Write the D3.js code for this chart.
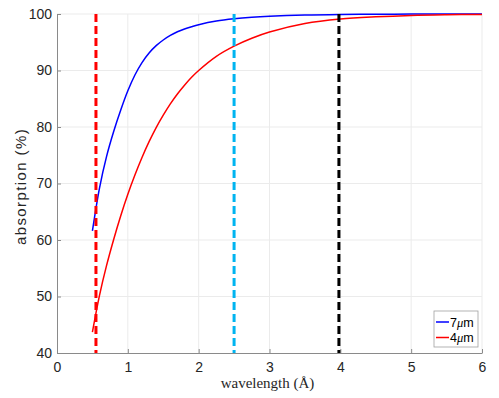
<!DOCTYPE html>
<html>
<head>
<meta charset="utf-8">
<script src="https://cdn.jsdelivr.net/npm/d3@7"></script>
<style>
  body { margin: 0; background: #ffffff; }
  svg { display: block; }
</style>
</head>
<body>
<div id="chart"></div>
<script>
// wavelength (Angstrom) sample points
const wavelengths = [0.5, 0.6, 0.7, 0.8, 0.9, 1.0, 1.1, 1.2, 1.3, 1.4, 1.5, 1.6, 1.7, 1.8, 1.9, 2.0, 2.25, 2.5, 2.75, 3.0, 3.5, 4.0, 4.5, 5.0, 5.5, 6.0]
// absorption (%) for the 7um layer
const abs7um = [61.6, 69.2, 74.8, 79.2, 83.0, 86.4, 89.2, 91.4, 93.1, 94.4, 95.4, 96.2, 96.85, 97.35, 97.75, 98.1, 98.75, 99.15, 99.42, 99.6, 99.82, 99.92, 99.96, 99.98, 99.99, 100]
// absorption (%) for the 4um layer
const abs4um = [43.7, 50.2, 55.5, 60.1, 64.3, 68.1, 71.5, 74.6, 77.4, 79.9, 82.1, 84.1, 85.85, 87.4, 88.8, 90.0, 92.5, 94.3, 95.7, 96.8, 98.3, 99.1, 99.5, 99.75, 99.87, 99.93]

// vertical dashed markers
const markerX = [0.55, 2.5, 3.98]
const markerColors = ['#ff0000', '#00b4f0', '#000000']

const xTicks = [0, 1, 2, 3, 4, 5, 6]
const yTicks = [40, 50, 60, 70, 80, 90, 100]

const seriesNames = ['7', '4']
const seriesColors = ['#0000ff', '#ff0000']

var margin = {top: 14, right: 17, bottom: 45, left: 57},
    width = 499 - margin.left - margin.right,
    height = 398 - margin.top - margin.bottom;

var svg = d3.select('#chart')
  .append('svg')
    .attr('width', 499)
    .attr('height', 398)
  .append('g')
    .attr('transform', 'translate(' + margin.left + ',' + margin.top + ')');

var x = d3.scaleLinear().domain([0, 6]).range([0, width]);
var y = d3.scaleLinear().domain([40, 100]).range([height, 0]);

// grid
svg.append('g')
  .selectAll('line')
  .data(xTicks.slice(1))
  .enter().append('line')
    .attr('x1', d => x(d)).attr('x2', d => x(d))
    .attr('y1', 0).attr('y2', height)
    .style('stroke', '#ebebeb').style('stroke-width', 1);
svg.append('g')
  .selectAll('line')
  .data(yTicks.slice(1))
  .enter().append('line')
    .attr('x1', 0).attr('x2', width)
    .attr('y1', d => y(d)).attr('y2', d => y(d))
    .style('stroke', '#ebebeb').style('stroke-width', 1);

// axes (ticks point inward like matlab)
var xAxis = svg.append('g')
  .attr('transform', 'translate(0,' + height + ')')
  .call(d3.axisBottom(x).tickValues(xTicks).tickSizeInner(-4).tickSizeOuter(0).tickPadding(9).tickFormat(d3.format('d')));
var yAxis = svg.append('g')
  .call(d3.axisLeft(y).tickValues(yTicks).tickSizeInner(-4).tickSizeOuter(0).tickPadding(5).tickFormat(d3.format('d')));

[xAxis, yAxis].forEach(function(ax) {
  ax.select('.domain').style('stroke', '#8a8a8a');
  ax.selectAll('.tick line').style('stroke', '#8a8a8a');
  ax.selectAll('.tick text')
    .style('font-family', '"Liberation Sans", Arial, sans-serif')
    .style('font-size', '14px')
    .style('fill', '#262626');
});

// curves
var line = d3.line()
  .x(d => x(d[0]))
  .y(d => y(d[1]))
  .curve(d3.curveCatmullRom.alpha(0.5));

[abs7um, abs4um].forEach(function(vals, i) {
  svg.append('path')
    .datum(wavelengths.map((w, j) => [w, vals[j]]))
    .attr('d', line)
    .style('fill', 'none')
    .style('stroke', seriesColors[i])
    .style('stroke-width', 1.5);
});

// dashed markers
svg.append('g')
  .selectAll('line')
  .data(markerX)
  .enter().append('line')
    .attr('x1', d => x(d)).attr('x2', d => x(d))
    .attr('y1', y(100)).attr('y2', y(40))
    .style('stroke', (d, i) => markerColors[i])
    .style('stroke-width', 3)
    .style('stroke-dasharray', '8,4');

// axis labels
svg.append('text')
  .attr('x', width / 2 - 2)
  .attr('y', height + 35)
  .attr('text-anchor', 'middle')
  .style('font-family', '"Liberation Serif", "Times New Roman", serif')
  .style('font-size', '15px')
  .style('fill', '#262626')
  .text('wavelength (\u00c5)');

svg.append('text')
  .attr('transform', 'rotate(-90)')
  .attr('x', -(height / 2) - 3)
  .attr('y', -margin.left + 26)
  .attr('text-anchor', 'middle')
  .style('font-family', '"Liberation Sans", Arial, sans-serif')
  .style('font-size', '15px')
  .style('letter-spacing', '1.4px')
  .style('fill', '#262626')
  .text('absorption (%)');

// legend
var legend = svg.append('g')
  .attr('transform', 'translate(' + (width - 48) + ',' + (height - 42) + ')');

legend.append('rect')
  .attr('width', 44)
  .attr('height', 36)
  .style('fill', '#ffffff')
  .style('stroke', '#a0a0a0')
  .style('stroke-width', 0.8);

var items = legend.selectAll('.legend-item')
  .data(seriesNames)
  .enter().append('g')
    .attr('class', 'legend-item')
    .attr('transform', (d, i) => 'translate(0,' + (11 + i * 15.5) + ')');

items.append('line')
  .attr('x1', 2).attr('x2', 15)
  .attr('y1', 0).attr('y2', 0)
  .style('stroke', (d, i) => seriesColors[i])
  .style('stroke-width', 1.5);

var lt = items.append('text')
  .attr('x', 16)
  .attr('y', 4.5)
  .style('font-family', '"Liberation Sans", Arial, sans-serif')
  .style('font-size', '12.5px')
  .style('fill', '#000000');
lt.append('tspan').text(d => d);
lt.append('tspan').style('font-style', 'italic').style('font-family', '"Liberation Serif", serif').text('\u03bc');
lt.append('tspan').text('m');
</script>
</body>
</html>
